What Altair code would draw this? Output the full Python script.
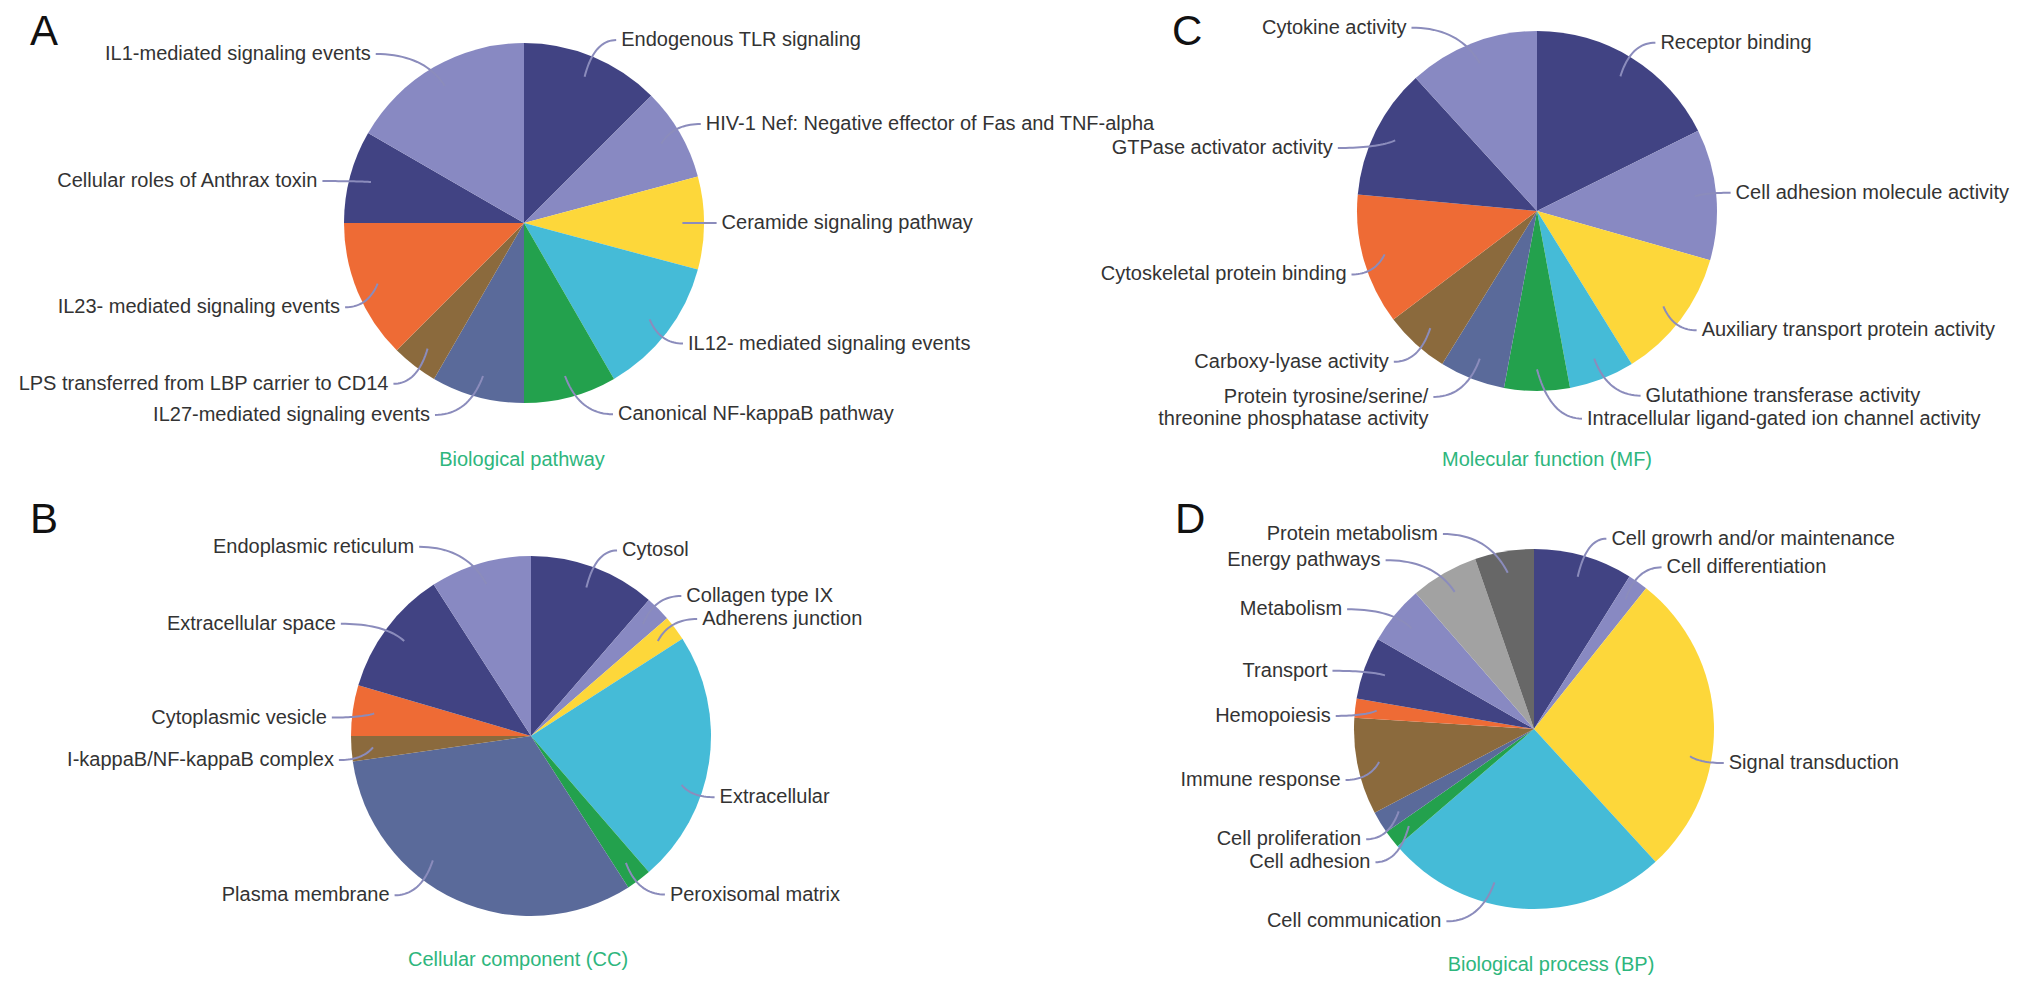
import math
import altair as alt
import pandas as pd

# ---------------- data ----------------
a_labels = ["Endogenous TLR signaling", "HIV-1 Nef: Negative effector of Fas and TNF-alpha",
            "Ceramide signaling pathway", "IL12- mediated signaling events",
            "Canonical NF-kappaB pathway", "IL27-mediated signaling events",
            "LPS transferred from LBP carrier to CD14", "IL23- mediated signaling events",
            "Cellular roles of Anthrax toxin", "IL1-mediated signaling events"]
a_values = [3, 2, 2, 3, 2, 2, 1, 3, 2, 4]

b_labels = ["Cytosol", "Collagen type IX", "Adherens junction", "Extracellular",
            "Peroxisomal matrix", "Plasma membrane", "I-kappaB/NF-kappaB complex",
            "Cytoplasmic vesicle", "Extracellular space", "Endoplasmic reticulum"]
b_values = [5, 1, 1, 10, 1, 14, 1, 2, 5, 4]

c_labels = ["Receptor binding", "Cell adhesion molecule activity",
            "Auxiliary transport protein activity", "Glutathione transferase activity",
            "Intracellular ligand-gated ion channel activity",
            "Protein tyrosine/serine/\nthreonine phosphatase activity",
            "Carboxy-lyase activity", "Cytoskeletal protein binding",
            "GTPase activator activity", "Cytokine activity"]
c_values = [3, 2, 2, 1, 1, 1, 1, 2, 2, 2]

d_labels = ["Cell growrh and/or maintenance", "Cell differentiation", "Signal transduction",
            "Cell communication", "Cell adhesion", "Cell proliferation", "Immune response",
            "Hemopoiesis", "Transport", "Metabolism", "Energy pathways", "Protein metabolism"]
d_values = [8.9, 1.8, 27.5, 25.5, 1.6, 2.0, 8.7, 1.7, 5.6, 5.3, 6.1, 5.3]

panel_letters = ["A", "B", "C", "D"]
panel_titles = ["Biological pathway", "Cellular component (CC)",
                "Molecular function (MF)", "Biological process (BP)"]

# ---------------- styles / layout ----------------
palette = ["#414383", "#8889c2", "#fdd73a", "#45bbd7", "#23a14d", "#5a6a9a",
           "#8b6a3d", "#ee6b35", "#414383", "#8889c2", "#a2a2a2", "#676767"]
W, H = 2016, 973
R = 180
FONT = "Liberation Sans"
FS = 20
centers = {"A": (524, 223), "B": (531, 736), "C": (1537, 211), "D": (1534, 729)}
letter_pos = {"A": (30, 45), "B": (30, 533), "C": (1172, 45), "D": (1175, 533)}
title_pos = {"A": (522, 460), "B": (518, 960), "C": (1547, 460), "D": (1551, 965)}

panels = {"A": (a_labels, a_values), "B": (b_labels, b_values),
          "C": (c_labels, c_values), "D": (d_labels, d_values)}


def text_width(s, size):
    w = 0.0
    for ch in s:
        if ch in "ijl|":
            w += 0.222
        elif ch in " .,:;/It!f":
            w += 0.278
        elif ch in "-r()":
            w += 0.333
        elif ch in "mM":
            w += 0.833
        elif ch in "wW":
            w += 0.75
        elif ch in "sckyvxzJ":
            w += 0.5
        elif ch.isupper():
            w += 0.68
        else:
            w += 0.556
    return w * size


slice_rows, leader_rows, label_rows = [], [], []
placed = []  # label boxes already placed (x0, x1, y0, y1)
for p, (labels, values) in panels.items():
    cx, cy = centers[p]
    total = float(sum(values))
    cum = 0.0
    items = []
    for i, (lab, v) in enumerate(zip(labels, values)):
        t0 = cum / total
        cum += v
        t1 = cum / total
        slice_rows.append(dict(panel=p, label=lab, cx=cx, cy=cy, t0=t0, t1=t1,
                               color=palette[i % len(palette)]))
        # labels of big slices sit past the middle of the slice
        frac = 0.62 if (t1 - t0) * 360 > 75 else 0.5
        ang = (t0 + frac * (t1 - t0)) * 2 * math.pi
        s, c = math.sin(ang), math.cos(ang)
        side = "right" if s >= -1e-6 else "left"
        sign = 1 if side == "right" else -1
        if c > 0:
            shift = (20 if side == "right" else 60) * c
        else:
            shift = 45 * c ** 4
        drop = 10 * s * s if side == "left" else 0
        nlines = lab.count("\n") + 1
        items.append(dict(lab=lab, s=s, c=c, side=side, nlines=nlines,
                          p0=(cx + 0.88 * R * s, cy - 0.88 * R * c),
                          ax=cx + 1.07 * R * s + sign * shift,
                          ay=cy - 1.1 * R * c + drop))
    # resolve vertical overlaps per side
    for side in ("left", "right"):
        grp = sorted([it for it in items if it["side"] == side], key=lambda d: d["ay"])
        for k in range(1, len(grp)):
            gap = 11.5 * (grp[k - 1]["nlines"] + grp[k]["nlines"])
            if grp[k]["ay"] - grp[k - 1]["ay"] < gap:
                grp[k]["ay"] = grp[k - 1]["ay"] + gap
    # keep texts inside the canvas and clear of other panels' labels
    for it in sorted(items, key=lambda d: d["ay"]):
        w = max(text_width(t, FS) for t in it["lab"].split("\n"))
        h = 23 * it["nlines"]
        if it["side"] == "left":
            x0 = it["ax"] - 5 - w
            if x0 < 14:
                it["ax"] += 14 - x0
                x0 = 14
        else:
            x0 = it["ax"] + 5
        moved = True
        while moved:
            moved = False
            for (bx0, bx1, by0, by1) in placed:
                y0, y1 = it["ay"] - h / 2, it["ay"] + h / 2
                if x0 < bx1 and x0 + w > bx0 and y0 < by1 and y1 > by0:
                    it["ay"] = by1 + h / 2 + 1
                    moved = True
        it["box"] = (x0, x0 + w, it["ay"] - h / 2, it["ay"] + h / 2)
    for it in items:
        placed.append(it["box"])
    for j, it in enumerate(items):
        x0, y0 = it["p0"]
        x2, y2 = it["ax"], it["ay"]
        x1, y1 = x0 + 0.3 * (x2 - x0), y2
        for k in range(21):
            t = k / 20
            bx = (1 - t) ** 2 * x0 + 2 * (1 - t) * t * x1 + t ** 2 * x2
            by = (1 - t) ** 2 * y0 + 2 * (1 - t) * t * y1 + t ** 2 * y2
            leader_rows.append(dict(lid=f"{p}{j}", k=k, x=bx, y=by))
        dx = 5 if it["side"] == "right" else -5
        label_rows.append(dict(label=it["lab"], x=x2 + dx, y=y2, side=it["side"]))

slices = pd.DataFrame(slice_rows)
leaders = pd.DataFrame(leader_rows)
labels_df = pd.DataFrame(label_rows)
letters_df = pd.DataFrame([dict(t=l, x=letter_pos[l][0], y=letter_pos[l][1]) for l in panel_letters])
titles_df = pd.DataFrame([dict(t=t, x=title_pos[l][0], y=title_pos[l][1])
                          for l, t in zip(panel_letters, panel_titles)])

xs = alt.Scale(domain=[8, 8 + W], nice=False, zero=False)
ys = alt.Scale(domain=[8 + H, 8], nice=False, zero=False)
X = lambda f: alt.X(f, type="quantitative", scale=xs, axis=None)
Y = lambda f: alt.Y(f, type="quantitative", scale=ys, axis=None)

arcs = alt.Chart(slices).mark_arc(radius=R).encode(
    x=X("cx"), y=Y("cy"),
    theta=alt.Theta("t0:Q", scale=alt.Scale(domain=[0, 1], range=[0, 2 * math.pi]), stack=False),
    theta2="t1:Q",
    color=alt.Color("color:N", scale=None),
)

lines = alt.Chart(leaders).mark_line(strokeWidth=2, color="#8b8cbc").encode(
    x=X("x"), y=Y("y"), detail="lid:N", order="k:Q")

txt_r = alt.Chart(labels_df[labels_df.side == "right"]).mark_text(
    align="left", baseline="middle", font=FONT, fontSize=FS, color="#333333", lineBreak="\n"
).encode(x=X("x"), y=Y("y"), text="label:N")
txt_l = alt.Chart(labels_df[labels_df.side == "left"]).mark_text(
    align="right", baseline="middle", font=FONT, fontSize=FS, color="#333333", lineBreak="\n"
).encode(x=X("x"), y=Y("y"), text="label:N")

letters = alt.Chart(letters_df).mark_text(
    align="left", baseline="alphabetic", font=FONT, fontSize=42, color="#111111"
).encode(x=X("x"), y=Y("y"), text="t:N")

titles = alt.Chart(titles_df).mark_text(
    align="center", baseline="middle", font=FONT, fontSize=FS, color="#2eb67d"
).encode(x=X("x"), y=Y("y"), text="t:N")

chart = alt.layer(arcs, lines, txt_r, txt_l, letters, titles).properties(
    width=W, height=H, autosize=alt.AutoSizeParams(type="none"), padding=0,
    background="white"
).configure_view(strokeWidth=0)

chart.save("out.html", embed_options={"renderer": "svg", "actions": False})
